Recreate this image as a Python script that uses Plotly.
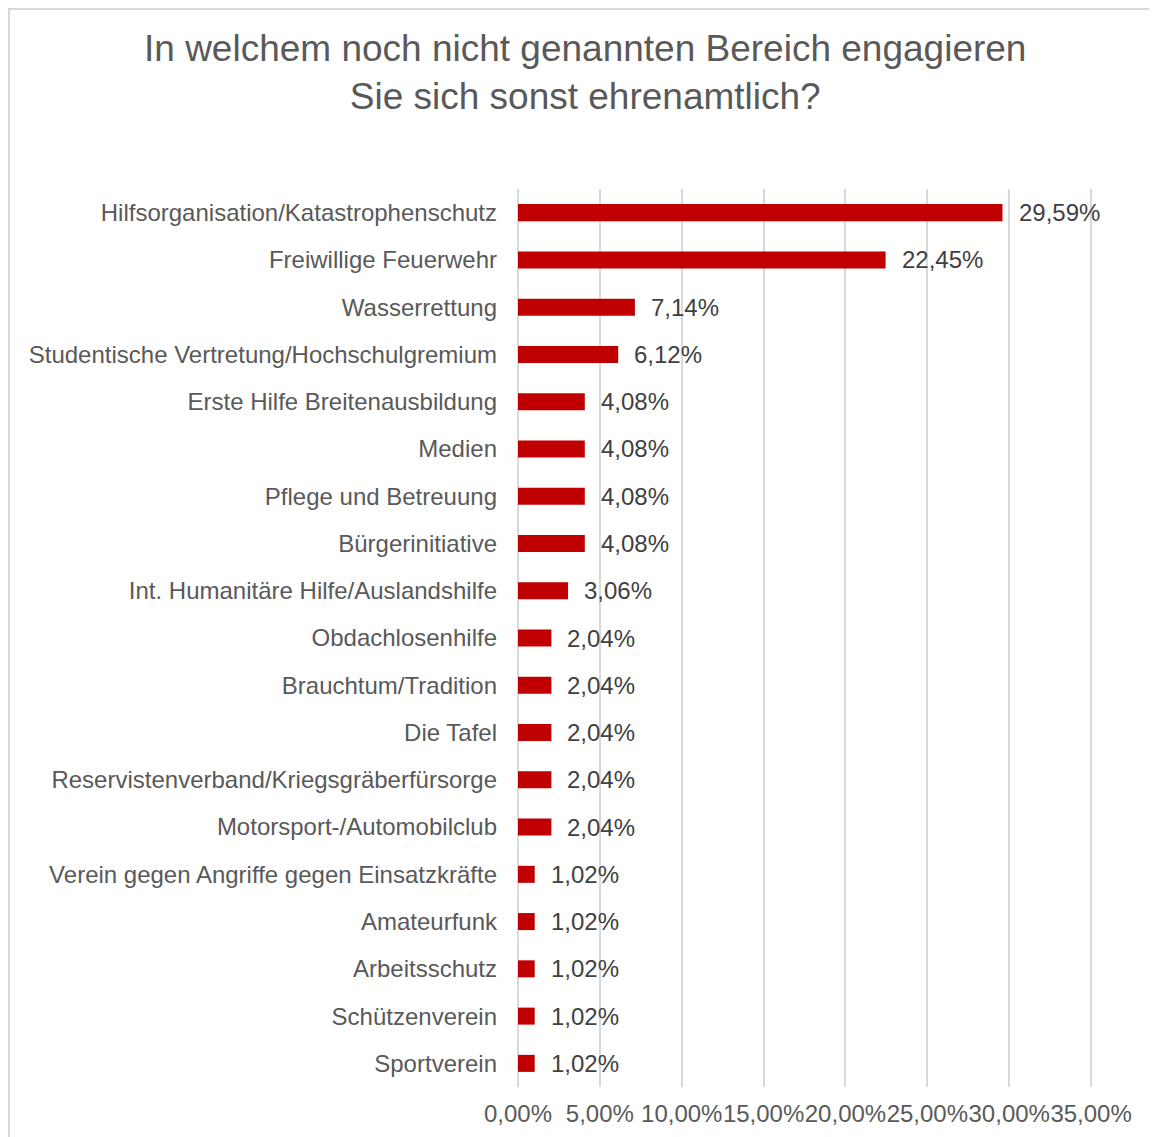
import plotly.graph_objects as go

BAR_COLOR = "#C00000"
TEXT_GRAY = "#595959"
GRID_GRAY = "#D9D9D9"

categories = [
    "Hilfsorganisation/Katastrophenschutz",
    "Freiwillige Feuerwehr",
    "Wasserrettung",
    "Studentische Vertretung/Hochschulgremium",
    "Erste Hilfe Breitenausbildung",
    "Medien",
    "Pflege und Betreuung",
    "Bürgerinitiative",
    "Int. Humanitäre Hilfe/Auslandshilfe",
    "Obdachlosenhilfe",
    "Brauchtum/Tradition",
    "Die Tafel",
    "Reservistenverband/Kriegsgräberfürsorge",
    "Motorsport-/Automobilclub",
    "Verein gegen Angriffe gegen Einsatzkräfte",
    "Amateurfunk",
    "Arbeitsschutz",
    "Schützenverein",
    "Sportverein",
]
values = [29.59, 22.45, 7.14, 6.12, 4.08, 4.08, 4.08, 4.08, 3.06,
          2.04, 2.04, 2.04, 2.04, 2.04, 1.02, 1.02, 1.02, 1.02, 1.02]
tick_vals = [0, 5, 10, 15, 20, 25, 30, 35]
tick_text = ["0,00%", "5,00%", "10,00%", "15,00%", "20,00%", "25,00%", "30,00%", "35,00%"]
title_text = "In welchem noch nicht genannten Bereich engagieren<br>Sie sich sonst ehrenamtlich?"


def pct_de(v):
    return f"{v:.2f}".replace(".", ",") + "%"


fig = go.Figure()
fig.add_trace(go.Bar(
    x=values, y=categories, orientation='h',
    marker=dict(color=BAR_COLOR, line_width=0),
    width=0.36,
    hoverinfo='skip',
))

# value labels right of bars
for c, v in zip(categories, values):
    fig.add_annotation(x=v, y=c, text=pct_de(v), showarrow=False,
                       xanchor='left', xshift=14,
                       font=dict(size=24, color="#404040"))

# title as annotation (multi-line titles drift with yanchor)
fig.add_annotation(text=title_text, xref='paper', yref='paper',
                   x=0.1159, y=1.1297, xanchor='center', yanchor='middle',
                   showarrow=False, align='center',
                   font=dict(size=37, color=TEXT_GRAY))

# outer chart border (Excel style)
fig.add_shape(type='rect', xref='paper', yref='paper',
              x0=-0.8806, x1=1.3, y0=-0.2, y1=1.2005,
              line=dict(color=GRID_GRAY, width=2), fillcolor='rgba(0,0,0,0)',
              layer='below')

fig.update_layout(
    width=1149, height=1129,
    paper_bgcolor='white', plot_bgcolor='white',
    font=dict(family="Liberation Sans, Arial, sans-serif", size=24, color=TEXT_GRAY),
    margin=dict(l=510, r=61, t=181, b=50),
    showlegend=False,
    xaxis=dict(range=[0, 35.3], tickvals=tick_vals, ticktext=tick_text, tickangle=0,
               showgrid=True, gridcolor=GRID_GRAY, gridwidth=2,
               zeroline=True, zerolinecolor=GRID_GRAY, zerolinewidth=2,
               showline=False, ticklabelstandoff=10, automargin=False,
               tickfont=dict(size=24, color=TEXT_GRAY)),
    yaxis=dict(autorange='reversed', showgrid=False, zeroline=False, showline=False,
               ticklabelstandoff=20, automargin=False,
               tickfont=dict(size=24, color=TEXT_GRAY)),
)

fig.write_html("out.html")
